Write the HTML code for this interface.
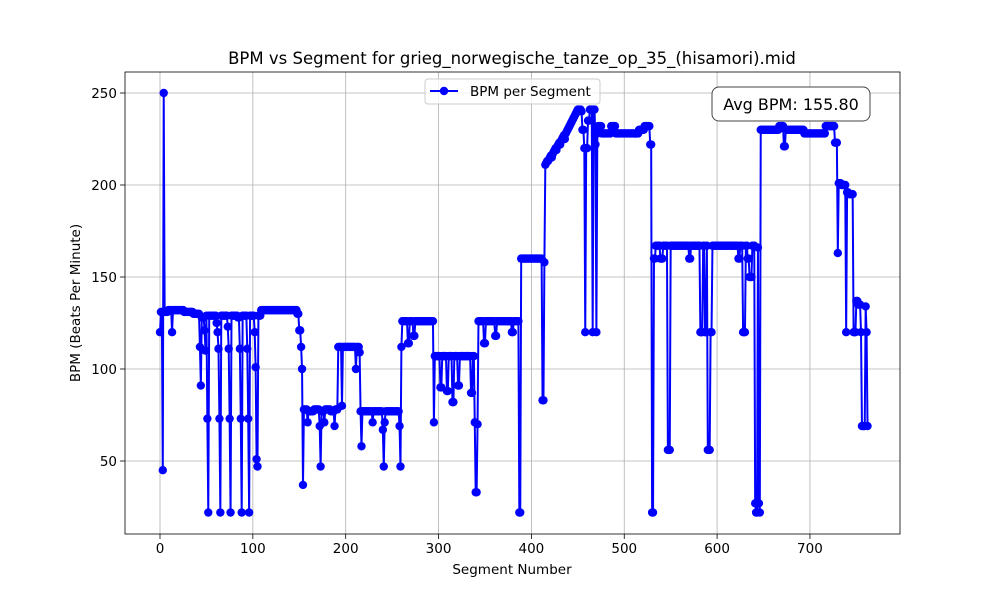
<!DOCTYPE html>
<html><head><meta charset="utf-8"><style>
body{margin:0;background:#fff;font-family:"Liberation Sans","DejaVu Sans",sans-serif;}
svg text{font-family:"DejaVu Sans","Liberation Sans",sans-serif;}
</style></head><body>
<svg id="c" width="1000" height="600" xmlns="http://www.w3.org/2000/svg"></svg>
<script>
const xTicks=[0,100,200,300,400,500,600,700];
const yTicks=[50,100,150,200,250];
const runs=[[120,1],[131,1],[131,1],[45,1],[250,1],[131,4],[132,4],[120,1],[132,12],[131,10],
[130,7],[112,1],[91,1],[128,3],[121,1],[110,1],[129,1],[73,1],[22,1],
[129,8],[125,1],[120,1],[111,1],[73,1],[22,1],
[129,7],[123,1],[111,1],[73,1],[22,1],
[129,7],[128,2],[111,1],[73,1],[22,1],
[129,5],[111,1],[73,1],[22,1],
[129,5],[120,1],[101,1],[51,1],[47,1],[129,3],[132,39],[130,2],[121,2],[112,1],[100,1],[37,1],
[78,4],[71,1],[77,6],[78,6],[69,1],[47,1],[77,3],[71,1],[78,6],[77,4],[69,1],[78,3],
[112,4],[80,1],[112,14],[100,1],[112,3],[109,1],
[77,1],[58,1],[77,11],[71,1],[77,10],[67,1],[47,1],[71,1],[77,15],[69,1],[47,1],
[112,1],[126,6],[114,2],[126,4],[118,2],[126,20],[71,1],
[107,6],[90,2],[107,5],[88,2],[107,4],[82,2],[107,4],[91,2],[107,12],[87,2],[107,2],[71,1],[33,2],[70,1],
[126,6],[114,2],[126,10],[118,2],[126,16],[120,2],[126,6],[22,2],
[160,23],[83,2],[158,1],
[211,1],[212,1],[213,2],[214,1],[215,1],[216,1],[215,1],[217,1],[218,1],[219,1],[220,1],[219,1],[221,1],[222,1],[223,1],[222,1],[224,1],[225,1],[226,1],[227,1],[225,1],[228,1],[229,1],[230,1],[231,1],[232,1],[233,1],[234,1],[235,1],[236,1],[237,1],[238,1],[239,1],[240,1],[241,4],[240,1],
[230,2],[220,1],[120,1],[220,2],[235,2],[241,3],[120,1],[241,2],[222,1],[120,1],[228,1],
[232,4],[228,10],[232,5],[228,25],[230,6],[232,6],[222,2],[22,2],
[160,2],[167,5],[160,3],[167,5],[56,3],[167,20],[160,2],[167,10],[120,3],[167,2],[120,2],[167,1],[56,3],[120,2],[167,28],[160,2],[167,3],[120,3],[167,2],[160,2],[150,3],[167,3],[27,1],[22,2],[166,1],[27,1],[22,1],
[230,20],[232,5],[221,2],[230,20],[228,23],[232,10],[223,3],
[163,1],[201,3],[200,5],[120,1],[196,2],[195,5],[120,3],[137,2],[135,3],[120,1],[69,4],[134,1],[120,1],[69,1]];
const bpm=[];runs.forEach(r=>{for(let i=0;i<r[1];i++)bpm.push(r[0]);});

const L=125,R=900,T=72,B=534;
const X=v=>160+v*0.9285, Y=v=>461-(v-50)*1.84;
const svg=document.getElementById('c'),NS='http://www.w3.org/2000/svg';
function mk(t,a,p){const e=document.createElementNS(NS,t);for(const k in a)e.setAttribute(k,a[k]);(p||svg).appendChild(e);return e;}
function tx(x,y,s,size,anchor,extra){const e=mk('text',Object.assign({x:x,y:y,'font-size':size,'text-anchor':anchor||'middle',fill:'#000'},extra||{}));e.textContent=s;return e;}

const grid=mk('g',{});
xTicks.forEach(v=>{mk('line',{x1:X(v),x2:X(v),y1:T,y2:B,stroke:'#b0b0b0','stroke-width':0.8},grid);
 mk('line',{x1:X(v),x2:X(v),y1:B,y2:B+5,stroke:'#000','stroke-width':0.8});
 const t=tx(X(v),B+19,String(v),13.5);});
yTicks.forEach(v=>{mk('line',{x1:L,x2:R,y1:Y(v),y2:Y(v),stroke:'#b0b0b0','stroke-width':0.8},grid);
 mk('line',{x1:L-5,x2:L,y1:Y(v),y2:Y(v),stroke:'#000','stroke-width':0.8});
 const t=tx(L-8,Y(v)+5,String(v),13.5,'end');});

const series=mk('g',{});
mk('polyline',{points:bpm.map((v,i)=>X(i)+','+Y(v)).join(' '),fill:'none',stroke:'#0000ff','stroke-width':2,'stroke-linejoin':'round'},series);
bpm.forEach((v,i)=>{const c=mk('circle',{cx:X(i),cy:Y(v),r:4.2,fill:'#0000ff'},series);

});

const fr=mk('rect',{x:L,y:T,width:R-L,height:B-T,fill:'none',stroke:'#000','stroke-width':0.8});


let t=tx(512,64,'BPM vs Segment for grieg_norwegische_tanze_op_35_(hisamori).mid',16.5);

t=tx(512,574,'Segment Number',13.5);
t=tx(0,0,'BPM (Beats Per Minute)',13.5,'middle',{transform:'translate(80,303) rotate(-90)'});


const lg=mk('g',{});
mk('rect',{x:425,y:79,width:175,height:25,rx:3,fill:'#fff','fill-opacity':0.8,stroke:'#ccc'},lg);
mk('line',{x1:430,x2:458,y1:91,y2:91,stroke:'#0000ff','stroke-width':2},lg);
mk('circle',{cx:444,cy:91,r:4.2,fill:'#0000ff'},lg);
const le=tx(470,96,'BPM per Segment',13.5,'start');lg.appendChild(le);

const ab=mk('g',{});
mk('rect',{x:712,y:87,width:158,height:34,rx:7,fill:'#fff',stroke:'#444','stroke-width':1},ab);
const at=tx(791,110,'Avg BPM: 155.80',16,'middle');ab.appendChild(at);
</script>
</body></html>
